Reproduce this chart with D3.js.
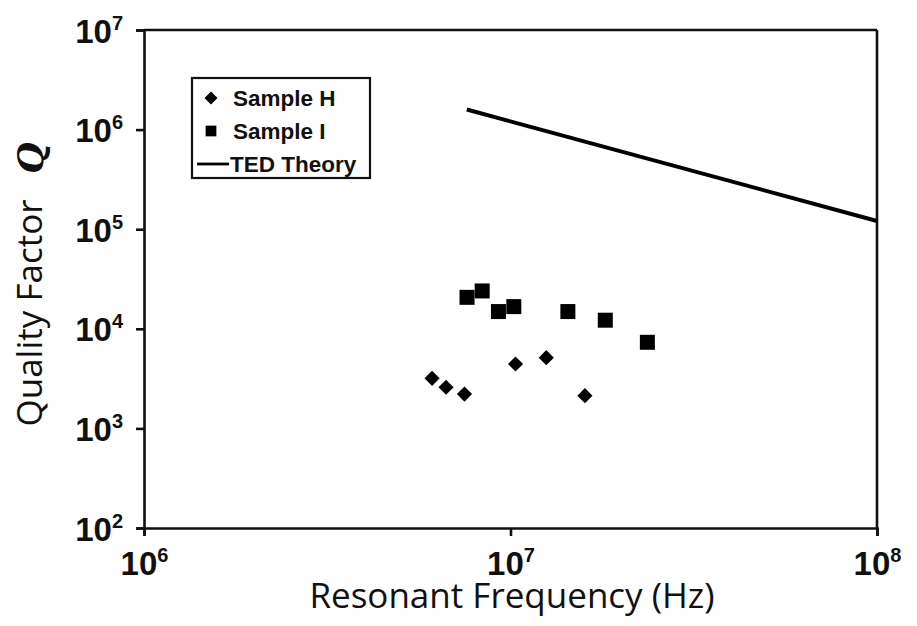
<!DOCTYPE html>
<html>
<head>
<meta charset="utf-8">
<script src="https://cdn.jsdelivr.net/npm/d3@7"></script>
<style>
  html, body { margin: 0; padding: 0; background: #fff; }
  svg { display: block; }
</style>
</head>
<body>
<svg id="chart" width="917" height="626"></svg>
<script>
// ---- data ----
const sampleHFreq = [6.11e6, 6.67e6, 7.49e6, 1.032e7, 1.252e7, 1.596e7];
const sampleHQ    = [3180,   2590,   2210,   4430,    5130,    2130];
const sampleIFreq = [7.61e6, 8.37e6, 9.27e6, 1.021e7, 1.434e7, 1.814e7, 2.363e7];
const sampleIQ    = [20700,  24000,  14900,  16700,   14900,   12200,   7320];
const tedFreq     = [7.6e6, 1e8];
const tedQ        = [1.59e6, 1.21e5];
const xTickValues = [1e6, 1e7, 1e8];
const yTickValues = [1e2, 1e3, 1e4, 1e5, 1e6, 1e7];
const legendLabels = ["Sample H", "Sample I", "TED Theory"];
const xTitle = "Resonant Frequency (Hz)";
const yTitle = "Quality Factor";
const yTitleSymbol = "Q";

// ---- layout ----
const plotL = 144, plotR = 877, plotT = 30, plotB = 528;
const svg = d3.select("#chart");

const x = d3.scaleLog().domain([1e6, 1e8]).range([plotL, plotR]);
const y = d3.scaleLog().domain([1e2, 1e7]).range([plotB, plotT]);

const tickFont = "'Liberation Sans', Arial, Helvetica, sans-serif";
const titleFont = "'Open Sans', 'Noto Sans', sans-serif";

function powLabel(sel, v) {
  const e = Math.round(Math.log10(v));
  sel.text(null);
  sel.append("tspan").text("10");
  sel.append("tspan").attr("font-size", 20).attr("dy", -13).text(String(e));
}

// frame: top and right lines
svg.append("line").attr("x1", plotL).attr("x2", plotR).attr("y1", plotT).attr("y2", plotT)
  .attr("stroke", "#111").attr("stroke-width", 2.6);
svg.append("line").attr("x1", plotR).attr("x2", plotR).attr("y1", plotT).attr("y2", plotB)
  .attr("stroke", "#111").attr("stroke-width", 2.6);

// bottom axis
const xAxis = d3.axisBottom(x).tickValues(xTickValues).tickSize(8).tickFormat(() => "");
const gx = svg.append("g").attr("transform", `translate(0,${plotB})`).call(xAxis);
gx.select(".domain").attr("stroke", "#111").attr("stroke-width", 2.6);
gx.selectAll(".tick line").attr("stroke", "#111").attr("stroke-width", 2.6);
gx.selectAll(".tick").append("text")
  .attr("y", 47)
  .attr("text-anchor", "middle")
  .attr("fill", "#111")
  .attr("font-family", tickFont)
  .attr("font-weight", "bold")
  .attr("font-size", 33)
  .each(function(d) { powLabel(d3.select(this), d); });

// left axis
const yAxis = d3.axisLeft(y).tickValues(yTickValues).tickSize(8).tickFormat(() => "");
const gy = svg.append("g").attr("transform", `translate(${plotL},0)`).call(yAxis);
gy.select(".domain").attr("stroke", "#111").attr("stroke-width", 2.6);
gy.selectAll(".tick line").attr("stroke", "#111").attr("stroke-width", 2.6);
gy.selectAll(".tick").append("text")
  .attr("x", -21)
  .attr("y", 12)
  .attr("text-anchor", "end")
  .attr("fill", "#111")
  .attr("font-family", tickFont)
  .attr("font-weight", "bold")
  .attr("font-size", 33)
  .each(function(d) { powLabel(d3.select(this), d); });

// TED theory line
const line = d3.line().x(d => x(d[0])).y(d => y(d[1]));
svg.append("path")
  .datum(tedFreq.map((f, i) => [f, tedQ[i]]))
  .attr("d", line)
  .attr("fill", "none")
  .attr("stroke", "#000")
  .attr("stroke-width", 4);

// Sample I squares
const sq = d3.symbol().type(d3.symbolSquare).size(225);
svg.append("g").selectAll("path")
  .data(sampleIFreq.map((f, i) => [f, sampleIQ[i]]))
  .join("path")
  .attr("d", sq)
  .attr("transform", d => `translate(${x(d[0])},${y(d[1])})`)
  .attr("fill", "#000");

// Sample H diamonds
const dm = d3.symbol().type(d3.symbolSquare).size(115);
svg.append("g").selectAll("path")
  .data(sampleHFreq.map((f, i) => [f, sampleHQ[i]]))
  .join("path")
  .attr("d", dm)
  .attr("transform", d => `translate(${x(d[0])},${y(d[1])}) rotate(45)`)
  .attr("fill", "#000");

// legend
const lg = svg.append("g");
lg.append("rect").attr("x", 192).attr("y", 78).attr("width", 178).attr("height", 100)
  .attr("fill", "#fff").attr("stroke", "#111").attr("stroke-width", 2.2);
const rowY = [98, 131, 164];
lg.append("path").attr("d", d3.symbol().type(d3.symbolSquare).size(85))
  .attr("transform", `translate(211,${rowY[0]}) rotate(45)`).attr("fill", "#000");
lg.append("path").attr("d", d3.symbol().type(d3.symbolSquare).size(115))
  .attr("transform", `translate(211,${rowY[1]})`).attr("fill", "#000");
lg.append("line").attr("x1", 197).attr("x2", 229).attr("y1", rowY[2]).attr("y2", rowY[2])
  .attr("stroke", "#000").attr("stroke-width", 2.8);
lg.selectAll("text.leg").data(legendLabels).join("text")
  .attr("class", "leg")
  .attr("x", (d, i) => i < 2 ? 233 : 230)
  .attr("y", (d, i) => rowY[i] + 8)
  .attr("font-family", tickFont)
  .attr("font-weight", "bold")
  .attr("font-size", 22.5)
  .attr("fill", "#111")
  .text(d => d);

// axis titles
svg.append("text")
  .attr("x", 512).attr("y", 608)
  .attr("text-anchor", "middle")
  .attr("font-family", titleFont)
  .attr("font-size", 35)
  .attr("fill", "#111")
  .text(xTitle);

svg.append("text")
  .attr("transform", "translate(42,313) rotate(-90)")
  .attr("text-anchor", "middle")
  .attr("font-family", titleFont)
  .attr("font-size", 35)
  .attr("fill", "#111")
  .text(yTitle);

svg.append("text")
  .attr("transform", "translate(43,158) rotate(-90)")
  .attr("text-anchor", "middle")
  .attr("font-family", "'DejaVu Serif', 'Liberation Serif', serif")
  .attr("font-style", "italic")
  .attr("font-weight", "bold")
  .attr("font-size", 36)
  .attr("fill", "#111")
  .text(yTitleSymbol);
</script>
</body>
</html>
